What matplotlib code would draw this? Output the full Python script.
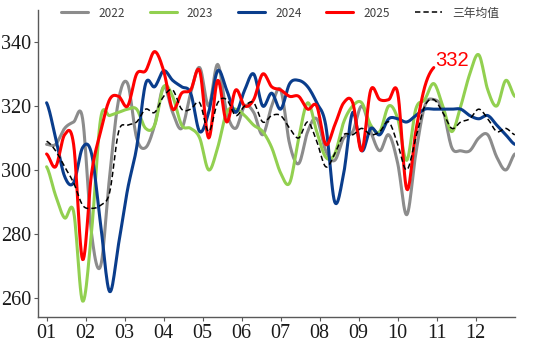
import numpy as np
import matplotlib
matplotlib.use("Agg")
import matplotlib.pyplot as plt

# ---------------- data (weekly, week index 0..52) ----------------
month_labels = ["01", "02", "03", "04", "05", "06", "07", "08", "09", "10", "11", "12"]
y_ticks = [260, 280, 300, 320, 340]

s2022 = [308, 308, 313, 315, 316, 280, 270, 298, 322, 327, 310, 307, 314, 326, 318, 313,
         324, 332, 320, 333, 318, 313, 320, 318, 311, 320, 325, 308, 302, 312, 316, 306,
         303, 310, 312, 320, 312, 306, 311, 302, 286, 305, 320, 322, 319, 307, 306, 306,
         310, 311, 304, 300, 305]
s2023 = [301, 292, 285, 287, 259, 281, 316, 317, 318, 319, 319, 313, 314, 326, 323, 314,
         313, 310, 300, 307, 318, 319, 317, 314, 312, 307, 299, 296, 310, 321, 312, 304,
         305, 315, 320, 321, 314, 312, 320, 316, 303, 319, 322, 327, 320, 312, 320, 330,
         336, 325, 320, 328, 323]
s2024 = [321, 310, 298, 296, 307, 305, 283, 262, 277, 294, 307, 327, 326, 331, 328, 326,
         324, 312, 318, 331, 325, 318, 325, 330, 320, 324, 319, 327, 328, 326, 321, 314,
         290, 299, 318, 306, 313, 311, 316, 316, 315, 317, 319, 319, 319, 319, 319, 317,
         316, 317, 314, 311, 308]
s2025 = [305, 301, 311, 308, 272, 299, 312, 322, 323, 320, 330, 331, 337, 331, 319, 324,
         325, 331, 310, 328, 315, 325, 320, 322, 330, 326, 325, 323, 323, 319, 320, 308,
         314, 321, 321, 306, 325, 322, 322, 324, 294, 312, 326, 332]
avg3 = [309, 306, 301, 296, 289, 288, 289, 293, 312, 314, 315, 319, 318, 323, 325, 319,
        319, 321, 312, 321, 322, 317, 320, 321, 315, 317, 317, 313, 310, 315, 309, 301,
        305, 311, 311, 313, 311, 312, 315, 308, 300, 310, 320, 322, 318, 313, 315, 316,
        319, 316, 312, 313, 311]

series_names = ["2022", "2023", "2024", "2025"]
series_vals = [s2022, s2023, s2024, s2025]
avg_name = "三年均值"
colors = ["#8c8c8c", "#92d050", "#0a3d8c", "#ff0000"]


def smooth(vals, n=12):
    """Catmull-Rom interpolation through the weekly points."""
    y = np.asarray(vals, float)
    x = np.arange(len(y), dtype=float)
    yp = np.concatenate([[y[0]], y, [y[-1]]])
    xs, ys = [], []
    t = np.linspace(0, 1, n, endpoint=False)
    for i in range(len(y) - 1):
        p0, p1, p2, p3 = yp[i], yp[i + 1], yp[i + 2], yp[i + 3]
        seg = 0.5 * (2 * p1 + (-p0 + p2) * t + (2 * p0 - 5 * p1 + 4 * p2 - p3) * t ** 2
                     + (-p0 + 3 * p1 - 3 * p2 + p3) * t ** 3)
        xs.append(x[i] + t)
        ys.append(seg)
    xs.append([x[-1]])
    ys.append([y[-1]])
    return np.concatenate(xs), np.concatenate(ys)


fig = plt.figure(figsize=(5.5, 3.44), dpi=100)
ax = fig.add_axes([0.069, 0.078, 0.867, 0.893])

handles = []
for name, vals, c in zip(series_names, series_vals, colors):
    xs, ys = smooth(vals)
    h, = ax.plot(xs, ys, color=c, lw=2.2, solid_capstyle="round", label=name)
    handles.append(h)
xs, ys = smooth(avg3)
h, = ax.plot(xs, ys, color="black", lw=1.1, ls=(0, (3.5, 2)), label=avg_name)
handles.append(h)

# end label for 2025
ax.annotate(f"{s2025[-1]}", xy=(len(s2025) - 1, s2025[-1]), xytext=(1, -2),
            textcoords="offset points", ha="left", va="bottom", color="#ff0000",
            fontsize=14.5, family="Liberation Sans")

ax.set_ylim(254, 350)
ax.set_xlim(-0.96, 52)
ax.set_yticks(y_ticks)
ax.set_xticks([i * 52 / 12 for i in range(12)])
ax.set_xticklabels(month_labels)
for lab in ax.get_xticklabels() + ax.get_yticklabels():
    lab.set_family("Liberation Serif")
    lab.set_fontsize(14.5)
    lab.set_color("#1a1a1a")
ax.tick_params(axis="both", length=3, width=0.8, color="#595959", pad=2)
for s in ["top", "right"]:
    ax.spines[s].set_visible(False)
for s in ["left", "bottom"]:
    ax.spines[s].set_color("#595959")
    ax.spines[s].set_linewidth(1.0)

leg = fig.legend(handles=handles, loc="center", bbox_to_anchor=(0.509, 0.962), ncol=5,
                 frameon=False, handlelength=2.3, handletextpad=0.85, columnspacing=2.1,
                 prop={"family": ["Noto Sans CJK SC", "DejaVu Sans"], "size": 8.5})
for t in leg.get_texts():
    t.set_color("#404040")

fig.savefig("out.png", dpi=100)
